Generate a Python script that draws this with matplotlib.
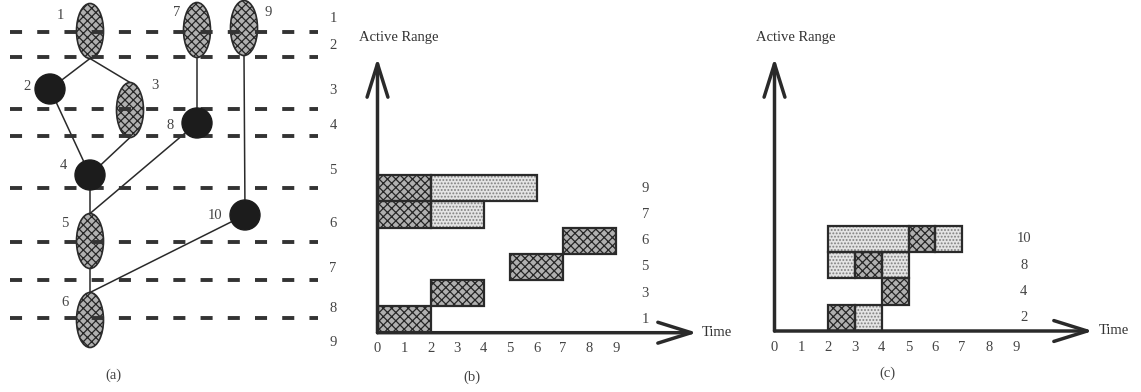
import matplotlib.pyplot as plt
from matplotlib.patches import Ellipse, Circle

# (a) 실행 그래프: 노드, 간선, 단계 구분선
node_ids = [1, 2, 3, 4, 5, 6, 7, 8, 9, 10]
node_x = [90, 50, 130, 90, 90, 90, 197, 197, 244, 245]
node_y = [31, 89, 110, 175, 241, 320, 30, 123, 28, 215]
node_kind = ['ell', 'dot', 'ell', 'dot', 'ell', 'ell', 'ell', 'dot', 'ell', 'dot']
label_x = [60, 27, 155, 63, 65, 65, 177, 170, 268, 215]
label_y = [15, 86, 85, 165, 223, 303, 12, 125, 12, 215]
edges = [(1, 2), (1, 3), (2, 4), (3, 4), (7, 8), (8, 5), (4, 5), (9, 10), (10, 6), (5, 6)]
step_line_y = [32, 57, 109, 136, 188, 242, 280, 318]
step_labels = ['1', '2', '3', '4', '5', '6', '7', '8', '9']
step_label_y = [18, 45, 90, 125, 170, 223, 268, 308, 342]

# (b) 활성 구간
b_rows = ['1', '3', '5', '6', '7', '9']
b_row = [0, 1, 2, 3, 4, 4, 5, 5]
b_start = [0, 2, 5, 7, 0, 2, 0, 2]
b_end = [2, 4, 7, 9, 2, 4, 2, 6]
b_shade = ['dark', 'dark', 'dark', 'dark', 'dark', 'light', 'dark', 'light']

# (c) 활성 구간
c_rows = ['2', '4', '8', '10']
c_row = [0, 0, 1, 2, 2, 2, 3, 3, 3]
c_start = [2, 3, 4, 2, 3, 4, 2, 5, 6]
c_end = [3, 4, 5, 3, 4, 5, 5, 6, 7]
c_shade = ['dark', 'light', 'dark', 'light', 'dark', 'light', 'light', 'dark', 'light']

time_ticks = [0, 1, 2, 3, 4, 5, 6, 7, 8, 9]

W, H = 1141, 392
plt.rcParams['font.family'] = ['Liberation Serif', 'DejaVu Serif']
plt.rcParams['hatch.linewidth'] = 0.9
fig = plt.figure(figsize=(W / 100, H / 100), dpi=100)

SHADE = {
    'dark': dict(color='#b0b0b0', edgecolor='#262626', hatch='xxxx'),
    'light': dict(color='#e4e4e4', edgecolor='#808080', hatch='.....'),
}
INK = '#2a2a2a'
FS = 10.5


def px_axes(x0, x1, y_top, y_bot):
    return fig.add_axes([x0 / W, 1 - y_bot / H, (x1 - x0) / W, (y_bot - y_top) / H])


# ---------------- (a) ----------------
ax = px_axes(0, 345, 0, 392)
ax.set_xlim(0, 345)
ax.set_ylim(392, 0)
ax.axis('off')

for y in step_line_y:
    ax.plot([10, 318], [y, y], color='#333333', lw=2.8,
            linestyle=(0, (3.1, 3.9)), solid_capstyle='butt', zorder=3)
for lab, y in zip(step_labels, step_label_y):
    ax.text(333, y, lab, ha='center', va='center', fontsize=FS, color='#444444')

ELL_W, ELL_H, DOT_R = 27, 55, 15
pos = {n: (x, y, k) for n, x, y, k in zip(node_ids, node_x, node_y, node_kind)}
for a, b in edges:
    xa, ya, ka = pos[a]
    xb, yb, kb = pos[b]
    if ka == 'ell':
        ya += ELL_H / 2
    if kb == 'ell':
        yb -= ELL_H / 2
    ax.plot([xa, xb], [ya, yb], color=INK, lw=1.1, zorder=1)

for n, x, y, k in zip(node_ids, node_x, node_y, node_kind):
    if k == 'ell':
        ax.add_patch(Ellipse((x, y), ELL_W, ELL_H, facecolor=SHADE['dark']['color'],
                             edgecolor=SHADE['dark']['edgecolor'], hatch='xxxx', lw=0, zorder=2))
        ax.add_patch(Ellipse((x, y), ELL_W, ELL_H, fill=False, edgecolor=INK, lw=1.2, zorder=2))
    else:
        ax.add_patch(Circle((x, y), DOT_R, color='#1c1c1c', zorder=4))

for n, lx, ly in zip(node_ids, label_x, label_y):
    ax.text(lx, ly, str(n), ha='center', va='center', fontsize=FS, color='#444444')


# ---------------- (b), (c) ----------------
def range_chart(x0, y0, sx, sy, rows, seg_row, seg_start, seg_end, seg_shade,
                label_pos, tip_x, tip_y, time_x):
    x_right, y_top = W, 25
    ax = px_axes(x0, x0 + (x_right - x0), y_top, y0)
    ax.set_xlim(0, (x_right - x0) / sx)
    ax.set_ylim(0, (y0 - y_top) / sy)
    for s in ax.spines.values():
        s.set_visible(False)
    ax.set_yticks([])
    ax.set_xticks(time_ticks)
    ax.set_xticklabels([str(t) for t in time_ticks], fontsize=FS, color='#444444')
    ax.tick_params(axis='x', length=0, pad=7)

    for shade in ['dark', 'light']:
        idx = [i for i, s in enumerate(seg_shade) if s == shade]
        ax.barh([seg_row[i] for i in idx], [seg_end[i] - seg_start[i] for i in idx],
                left=[seg_start[i] for i in idx], height=1, align='edge',
                linewidth=0, **SHADE[shade])
    ax.barh(seg_row, [e - s for s, e in zip(seg_start, seg_end)], left=seg_start,
            height=1, align='edge', fill=False, edgecolor=INK, linewidth=1.6)

    for i, lab in enumerate(rows):
        ax.text(label_pos, i + 0.5, lab, ha='center', va='center', fontsize=FS, color='#444444')

    arrow = dict(arrowstyle='->,head_length=1.6,head_width=0.5', lw=2.5, color=INK,
                 mutation_scale=15, shrinkA=0, shrinkB=0)
    ax.annotate('', xy=(tip_x, 0), xytext=(0, 0), arrowprops=arrow, annotation_clip=False)
    ax.annotate('', xy=(0, tip_y), xytext=(0, 0), arrowprops=arrow, annotation_clip=False)
    ax.text(time_x, 0, 'Time', ha='left', va='center', fontsize=FS, color='#333333')
    ax.text(-0.7, (y0 - 37) / sy, 'Active Range', ha='left', va='center',
            fontsize=FS, color='#333333')
    return ax


range_chart(377.5, 332.7, 26.5, 26.3, b_rows, b_row, b_start, b_end, b_shade,
            10.1, (697 - 377.5) / 26.5, (332.7 - 58) / 26.3, (702 - 377.5) / 26.5)
range_chart(774.5, 331, 26.8, 26.3, c_rows, c_row, c_start, c_end, c_shade,
            9.3, (1093 - 774.5) / 26.8, (331 - 58) / 26.3, (1099 - 774.5) / 26.8)

for lab, x, y in [('(a)', 113, 375), ('(b)', 472, 377), ('(c)', 887, 373)]:
    fig.text(x / W, 1 - y / H, lab, ha='center', va='center', fontsize=FS, color='#444444')

fig.savefig('out.png', dpi=100)
